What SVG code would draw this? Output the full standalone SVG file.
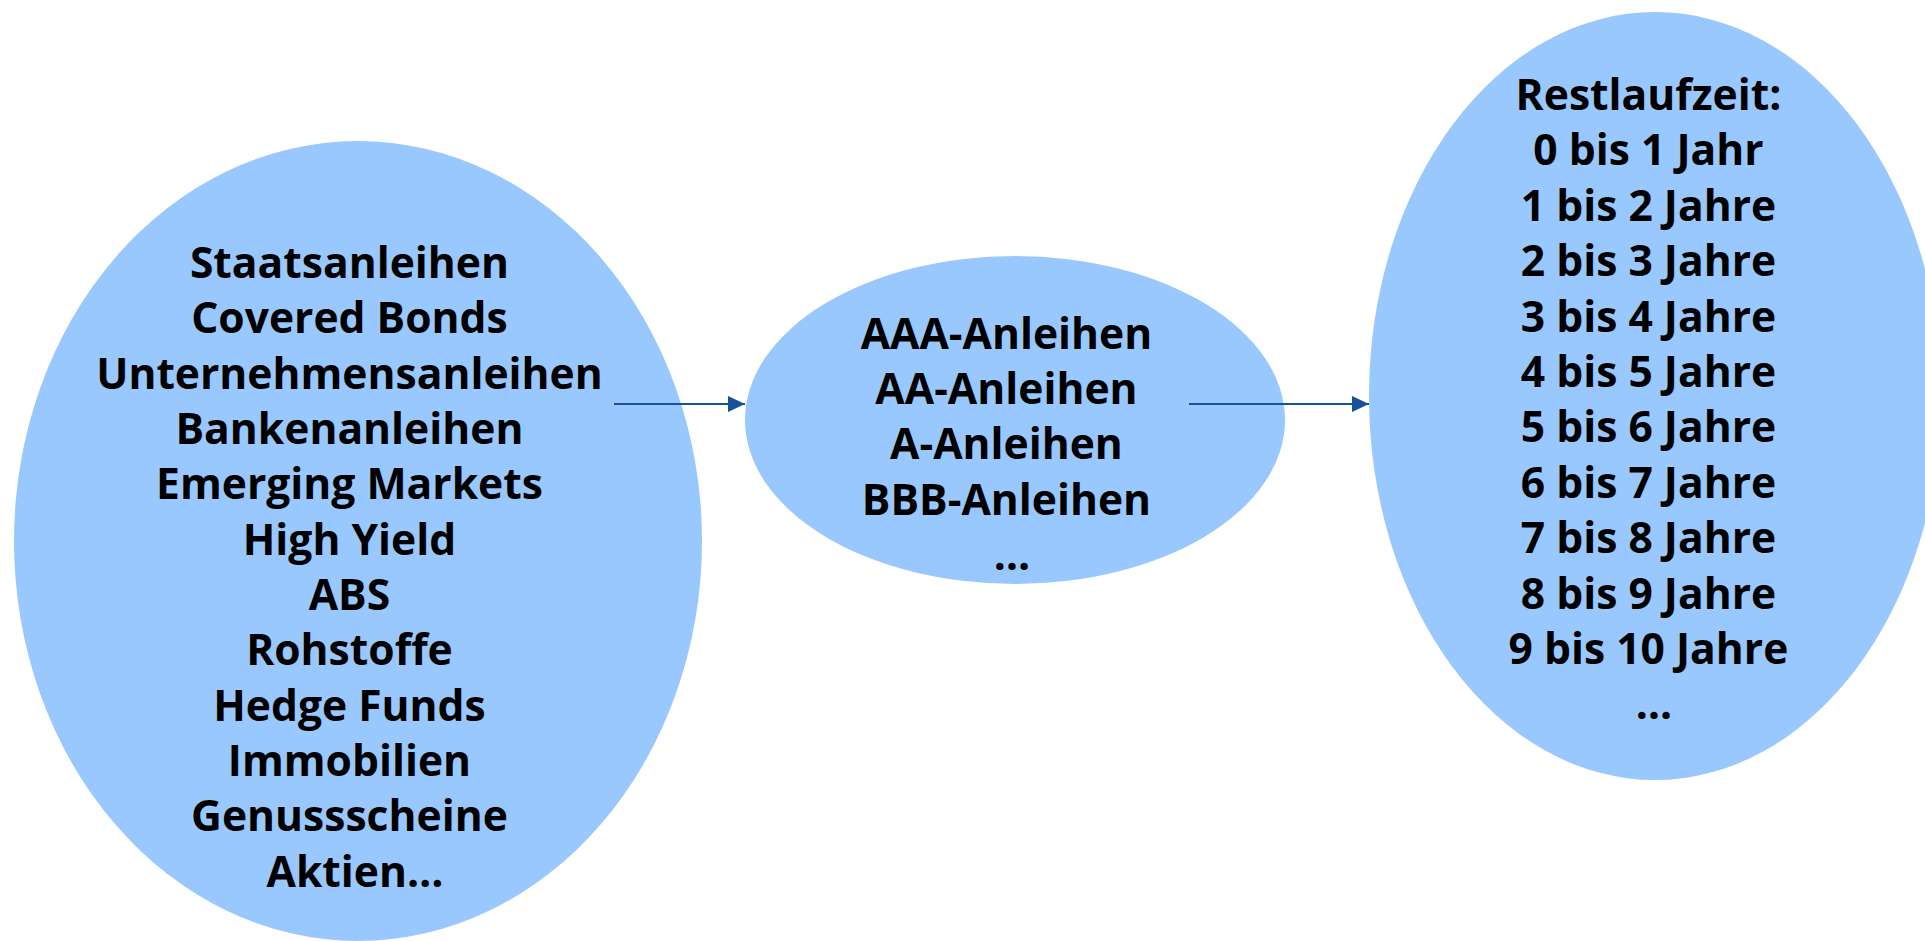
<svg xmlns="http://www.w3.org/2000/svg" width="1925" height="941" viewBox="0 0 1925 941">
<style>
.node{fill:#99C8FF}
.lbl{font-family:"Open Sans","Noto Sans",sans-serif;font-weight:700;font-size:42.6px;fill:#000;text-anchor:middle}
.conn{stroke:#17539A;stroke-width:2;fill:none}
</style>
<defs>
<marker id="arr" viewBox="0 0 17 16" refX="17" refY="8" markerWidth="17" markerHeight="16" markerUnits="userSpaceOnUse" orient="auto">
<path d="M0,0 L17,8 L0,16 Z" fill="#17539A"/>
</marker>
</defs>
<rect width="1925" height="941" fill="#fff"/>
<g id="node-asset-classes">
<ellipse class="node" cx="358" cy="541" rx="344" ry="400"/>
<text class="lbl">
<tspan x="355" y="278">Staatsanleihen</tspan>
<tspan x="355" y="333">Covered Bonds</tspan>
<tspan x="355" y="389">Unternehmensanleihen</tspan>
<tspan x="355" y="444">Bankenanleihen</tspan>
<tspan x="355" y="499">Emerging Markets</tspan>
<tspan x="355" y="555">High Yield</tspan>
<tspan x="355" y="610">ABS</tspan>
<tspan x="355" y="665">Rohstoffe</tspan>
<tspan x="355" y="721">Hedge Funds</tspan>
<tspan x="355" y="776">Immobilien</tspan>
<tspan x="355" y="831">Genussscheine</tspan>
<tspan x="355" y="887">Aktien…</tspan>
</text>
</g>
<g id="node-ratings">
<ellipse class="node" cx="1015" cy="420" rx="270" ry="164"/>
<text class="lbl">
<tspan x="1012" y="349">AAA-Anleihen</tspan>
<tspan x="1012" y="404">AA-Anleihen</tspan>
<tspan x="1012" y="459">A-Anleihen</tspan>
<tspan x="1012" y="515">BBB-Anleihen</tspan>
<tspan x="1012" y="570">…</tspan>
</text>
</g>
<g id="node-maturity">
<ellipse class="node" cx="1655" cy="396" rx="286" ry="384"/>
<text class="lbl">
<tspan x="1654" y="110">Restlaufzeit:</tspan>
<tspan x="1654" y="165">0 bis 1 Jahr</tspan>
<tspan x="1654" y="221">1 bis 2 Jahre</tspan>
<tspan x="1654" y="276">2 bis 3 Jahre</tspan>
<tspan x="1654" y="332">3 bis 4 Jahre</tspan>
<tspan x="1654" y="387">4 bis 5 Jahre</tspan>
<tspan x="1654" y="442">5 bis 6 Jahre</tspan>
<tspan x="1654" y="498">6 bis 7 Jahre</tspan>
<tspan x="1654" y="553">7 bis 8 Jahre</tspan>
<tspan x="1654" y="609">8 bis 9 Jahre</tspan>
<tspan x="1654" y="664">9 bis 10 Jahre</tspan>
<tspan x="1654" y="719">…</tspan>
</text>
</g>
<g id="connectors">
<line class="conn" x1="614" y1="404" x2="745" y2="404" marker-end="url(#arr)"/>
<line class="conn" x1="1189" y1="404" x2="1369" y2="404" marker-end="url(#arr)"/>
</g>
</svg>
